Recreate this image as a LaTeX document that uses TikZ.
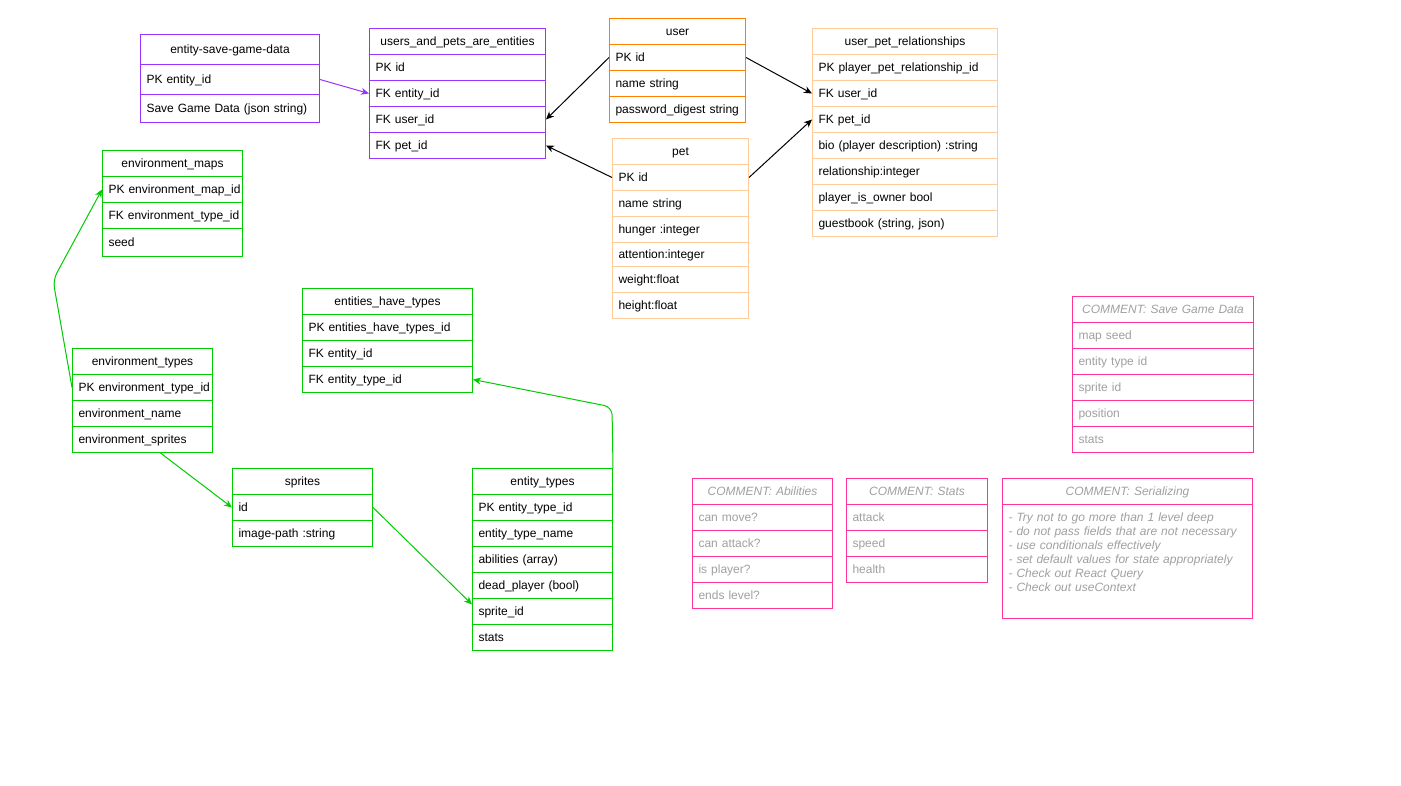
\documentclass[tikz,border=0pt]{standalone}
\usepackage{fontspec}
\setmainfont{Liberation Sans}
\usetikzlibrary{arrows.meta}
\hyphenpenalty=10000
\exhyphenpenalty=10000
\definecolor{cpurple}{RGB}{153,51,255}
\definecolor{corange}{RGB}{255,128,0}
\definecolor{clorange}{RGB}{255,204,153}
\definecolor{cgreen}{RGB}{0,204,0}
\definecolor{cpink}{RGB}{255,51,153}
\definecolor{cgraytext}{RGB}{160,160,160}
\newcommand{\erow}[7]{\pgfmathsetlengthmacro{\erowtw}{#5-12}\node[#1, text width=\erowtw, minimum height=#6pt] (#2) at (#3,#4) {\mbox{#7}};}
\newcommand{\eblock}[7]{\pgfmathsetlengthmacro{\erowtw}{#5-12}\node[#1, text width=\erowtw, minimum height=#6pt] (#2) at (#3,#4) {#7};}
\tikzset{
  row/.style={draw, line width=1pt, anchor=north west, inner xsep=6pt, inner ysep=0pt, align=left,
    font=\fontsize{12}{14}\selectfont, text height=11.4pt, text depth=2.5pt},
  hdr/.style={row, align=center},
  crow/.style={row, text=cgraytext, draw=cpink},
  chdr/.style={hdr, text=cgraytext, draw=cpink, font=\fontsize{12}{14}\selectfont\itshape},
  fk/.style={line width=1pt, -{Stealth[length=8pt,width=7pt,inset=2.5pt]}},
}
\begin{document}
\begin{tikzpicture}[x=1pt,y=-1pt]
\useasboundingbox (0,0) rectangle (1401,786);
\fill[white] (0,0) rectangle (1401,786);
% entity-save-game-data
\erow{hdr,draw=cpurple}{esgh}{140}{34}{179}{30}{entity-save-game-data}
\erow{row,draw=cpurple}{esg1}{140}{64}{179}{30}{PK entity\_id}
\erow{row,draw=cpurple}{esg2}{140}{94}{179}{28}{Save Game Data (json string)}
% users_and_pets_are_entities
\erow{hdr,draw=cpurple}{ueh}{369}{28}{176}{26}{users\_and\_pets\_are\_entities}
\erow{row,draw=cpurple}{ue1}{369}{54}{176}{26}{PK id}
\erow{row,draw=cpurple}{ue2}{369}{80}{176}{26}{FK entity\_id}
\erow{row,draw=cpurple}{ue3}{369}{106}{176}{26}{FK user\_id}
\erow{row,draw=cpurple}{ue4}{369}{132}{176}{26}{FK pet\_id}
% user
\erow{hdr,draw=corange}{ush}{609}{18}{136}{26}{user}
\erow{row,draw=corange}{us1}{609}{44}{136}{26}{PK id}
\erow{row,draw=corange}{us2}{609}{70}{136}{26}{name string}
\erow{row,draw=corange}{us3}{609}{96}{136}{26}{password\_digest string}
% pet
\erow{hdr,draw=clorange}{pth}{612}{138}{136}{26}{pet}
\erow{row,draw=clorange}{pt1}{612}{164}{136}{26}{PK id}
\erow{row,draw=clorange}{pt2}{612}{190}{136}{26}{name string}
\erow{row,draw=clorange}{pt3}{612}{216}{136}{26}{hunger :integer}
\erow{row,draw=clorange}{pt4}{612}{242}{136}{24}{attention:integer}
\erow{row,draw=clorange}{pt5}{612}{266}{136}{26}{weight:float}
\erow{row,draw=clorange}{pt6}{612}{292}{136}{26}{height:float}
% user_pet_relationships
\erow{hdr,draw=clorange}{uprh}{812}{28}{185}{26}{user\_pet\_relationships}
\erow{row,draw=clorange}{upr1}{812}{54}{185}{26}{PK player\_pet\_relationship\_id}
\erow{row,draw=clorange}{upr2}{812}{80}{185}{26}{FK user\_id}
\erow{row,draw=clorange}{upr3}{812}{106}{185}{26}{FK pet\_id}
\erow{row,draw=clorange}{upr4}{812}{132}{185}{26}{bio (player description) :string}
\erow{row,draw=clorange}{upr5}{812}{158}{185}{26}{relationship:integer}
\erow{row,draw=clorange}{upr6}{812}{184}{185}{26}{player\_is\_owner bool}
\erow{row,draw=clorange}{upr7}{812}{210}{185}{26}{guestbook (string, json)}
% environment_maps
\erow{hdr,draw=cgreen}{emh}{102}{150}{140}{26}{environment\_maps}
\erow{row,draw=cgreen}{em1}{102}{176}{140}{26}{PK environment\_map\_id}
\erow{row,draw=cgreen}{em2}{102}{202}{140}{26}{FK environment\_type\_id}
\erow{row,draw=cgreen}{em3}{102}{228}{140}{28}{seed}
% environment_types
\erow{hdr,draw=cgreen}{eth}{72}{348}{140}{26}{environment\_types}
\erow{row,draw=cgreen}{et1}{72}{374}{140}{26}{PK environment\_type\_id}
\erow{row,draw=cgreen}{et2}{72}{400}{140}{26}{environment\_name}
\erow{row,draw=cgreen}{et3}{72}{426}{140}{26}{environment\_sprites}
% entities_have_types
\erow{hdr,draw=cgreen}{ehth}{302}{288}{170}{26}{entities\_have\_types}
\erow{row,draw=cgreen}{eht1}{302}{314}{170}{26}{PK entities\_have\_types\_id}
\erow{row,draw=cgreen}{eht2}{302}{340}{170}{26}{FK entity\_id}
\erow{row,draw=cgreen}{eht3}{302}{366}{170}{26}{FK entity\_type\_id}
% sprites
\erow{hdr,draw=cgreen}{sph}{232}{468}{140}{26}{sprites}
\erow{row,draw=cgreen}{sp1}{232}{494}{140}{26}{id}
\erow{row,draw=cgreen}{sp2}{232}{520}{140}{26}{image-path :string}
% entity_types
\erow{hdr,draw=cgreen}{enth}{472}{468}{140}{26}{entity\_types}
\erow{row,draw=cgreen}{ent1}{472}{494}{140}{26}{PK entity\_type\_id}
\erow{row,draw=cgreen}{ent2}{472}{520}{140}{26}{entity\_type\_name}
\erow{row,draw=cgreen}{ent3}{472}{546}{140}{26}{abilities (array)}
\erow{row,draw=cgreen}{ent4}{472}{572}{140}{26}{dead\_player (bool)}
\erow{row,draw=cgreen}{ent5}{472}{598}{140}{26}{sprite\_id}
\erow{row,draw=cgreen}{ent6}{472}{624}{140}{26}{stats}
% COMMENT: Save Game Data
\erow{chdr}{csgh}{1072}{296}{181}{26}{COMMENT: Save Game Data}
\erow{crow}{csg1}{1072}{322}{181}{26}{map seed}
\erow{crow}{csg2}{1072}{348}{181}{26}{entity type id}
\erow{crow}{csg3}{1072}{374}{181}{26}{sprite id}
\erow{crow}{csg4}{1072}{400}{181}{26}{position}
\erow{crow}{csg5}{1072}{426}{181}{26}{stats}
% COMMENT: Abilities
\erow{chdr}{cabh}{692}{478}{140}{26}{COMMENT: Abilities}
\erow{crow}{cab1}{692}{504}{140}{26}{can move?}
\erow{crow}{cab2}{692}{530}{140}{26}{can attack?}
\erow{crow}{cab3}{692}{556}{140}{26}{is player?}
\erow{crow}{cab4}{692}{582}{140}{26}{ends level?}
% COMMENT: Stats
\erow{chdr}{csth}{846}{478}{141}{26}{COMMENT: Stats}
\erow{crow}{cst1}{846}{504}{141}{26}{attack}
\erow{crow}{cst2}{846}{530}{141}{26}{speed}
\erow{crow}{cst3}{846}{556}{141}{26}{health}
% COMMENT: Serializing
\erow{chdr}{cseh}{1002}{478}{250}{26}{COMMENT: Serializing}
\eblock{crow,text height=17pt,text depth=97pt,font=\fontsize{12}{14}\selectfont\itshape}{cse1}{1002}{504}{250}{114}{- Try not to go more than 1 level deep\\- do not pass fields that are not necessary\\- use conditionals effectively\\- set default values for state appropriately\\- Check out React Query\\- Check out useContext}
% connectors
\coordinate (b1) at (53,280);
\coordinate (b2) at (612,407);
\draw[fk,cpurple] (esg1.east) -- (ue2.west);
\draw[fk] (us1.west) -- (ue3.east);
\draw[fk] (pt1.west) -- (ue4.east);
\draw[fk] (us1.east) -- (upr2.west);
\draw[fk] (pt1.east) -- (upr3.west);
\draw[fk,cgreen,rounded corners=8pt] (et1.west) -- (b1) -- (em1.west);
\draw[fk,cgreen] ([xshift=18pt]et3.south) -- (sp1.west);
\draw[fk,cgreen] (sp1.east) -- ([yshift=7pt]ent5.west);
\draw[fk,cgreen,rounded corners=8pt] (enth.north east) -- (b2) -- (eht3.east);
\end{tikzpicture}
\end{document}
